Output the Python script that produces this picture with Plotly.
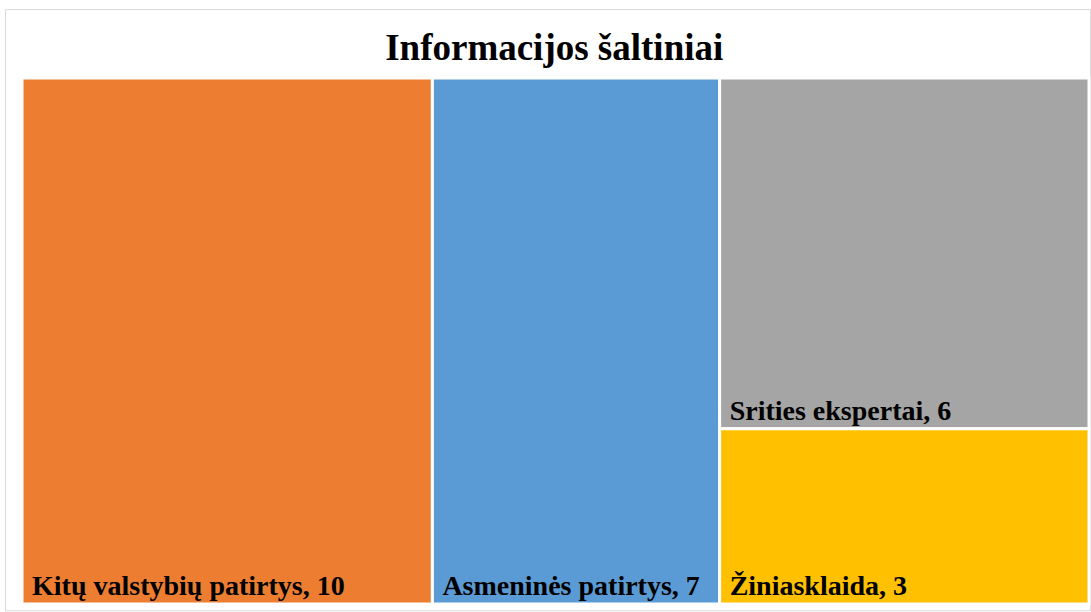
import plotly.graph_objects as go

labels = ["Kitų valstybių patirtys", "Asmeninės patirtys", "Srities ekspertai", "Žiniasklaida"]
values = [10, 7, 6, 3]
colors = ["#ED7D31", "#5B9BD5", "#A5A5A5", "#FFC000"]
title = "Informacijos šaltiniai"

fig = go.Figure(go.Treemap(
    labels=labels,
    parents=[""] * len(labels),
    values=values,
    marker=dict(colors=colors, line=dict(color="white", width=3),
                pad=dict(t=0, l=0, r=0, b=0)),
    texttemplate="<b>&nbsp;%{label}, %{value}</b>",
    textposition="bottom left",
    textfont=dict(family="Liberation Serif", size=28, color="black"),
    sort=True,
    tiling=dict(packing="squarify", pad=0),
    pathbar=dict(visible=False),
    hoverinfo="label+value",
    domain=dict(x=[0, 1], y=[0, 1]),
))

fig.update_layout(
    width=1091, height=612,
    margin=dict(l=22, r=2, t=78, b=8),
    paper_bgcolor="white",
    title=dict(text="<b>" + title + "</b>", x=0.508, xanchor="center", y=0.923, yanchor="middle",
               font=dict(family="Liberation Serif", size=37, color="black")),
    shapes=[dict(type="rect", xref="paper", yref="paper",
                 x0=-0.0155, x1=1.0015, y0=-0.013, y1=1.13,
                 line=dict(color="#D9D9D9", width=1), fillcolor="rgba(0,0,0,0)", layer="below")],
)

fig.write_html("out.html", config={"displayModeBar": False},
               post_script="document.body.style.margin='0';")
